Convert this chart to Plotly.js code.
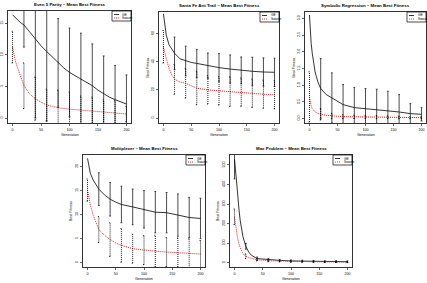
<!DOCTYPE html>
<html><head><meta charset="utf-8">
<script src="https://cdn.plot.ly/plotly-3.0.1.min.js"></script>
<style>html,body{margin:0;padding:0;background:#fff}#c{width:427px;height:283px}</style>
</head><body><div id="c"></div>
<script>
// ---------- DATA ----------
const barGens = [0,20,40,60,80,100,120,140,160,180,200];
const seriesNames = ["GE","Swarm"];
const titles = ["Even 5 Parity \u2013 Mean Best Fitness","Santa Fe Ant Trail \u2013 Mean Best Fitness","Symbolic Regression \u2013 Mean Best Fitness","Multiplexer \u2013 Mean Best Fitness","Max Problem \u2013 Mean Best Fitness"];
const xTitle = "Generation";
const yTitle = "Best Fitness";
const xTicks = [0,50,100,150,200];

// Even 5 Parity
const p1Gen = [0,5,10,15,20,30,40,50,60,70,80,90,100,110,120,130,140,150,160,170,180,190,200];
const p1GE = [16.3,15.8,15.4,15.0,14.7,13.6,12.5,11.4,10.5,9.6,8.7,7.9,7.2,6.7,6.2,5.7,5.1,4.4,3.8,3.3,2.9,2.5,2.2];
const p1Sw = [11.2,9.0,7.6,6.2,5.1,3.8,3.05,2.5,2.05,1.8,1.6,1.5,1.4,1.33,1.26,1.18,1.1,1.02,0.95,0.88,0.8,0.7,0.63];
const p1GESd = [null,3.5,12.5,11,7,7,7.2,6.6,6,5.4,4.6];
const p1SwSd = [2.5,3.6,3.4,2.5,2.8,2.7,2.2,2.2,1.9,1.9,1.2];
const p1YTicks = [0,5,10,15];

// Santa Fe Ant Trail
const p2Gen = [0,2,5,10,15,20,30,40,50,60,80,100,120,140,160,180,200];
const p2GE = [74,67,59,52,48.5,46,42,40.5,39.5,38.8,37.2,35.8,34.8,33.9,33.2,32.7,32.5];
const p2Sw = [50.6,47,42.4,35.3,30.5,27.5,25.6,24.7,22.8,21.2,20,19.3,18.8,18.4,17.6,16.9,16.5];
const p2GESd = [null,11.5,10.5,10,9,10,10,9.5,10,10,10];
const p2SwSd = [11.5,10.6,10.5,11.7,10,10,10.5,10,10,10,10];
const p2YTicks = [0,20,40,60];

// Symbolic Regression
const p3Gen = [0,1,2,3,5,8,10,15,20,30,40,50,60,80,100,120,140,160,180,200];
const p3GE = [3.1,2.75,2.55,2.25,1.95,1.6,1.4,1.1,0.9,0.72,0.62,0.5,0.42,0.33,0.3,0.28,0.25,0.2,0.15,0.13];
const p3Sw = [0.65,0.55,0.45,0.38,0.3,0.23,0.2,0.16,0.13,0.1,0.08,0.07,0.06,0.055,0.05,0.045,0.04,0.035,0.03,0.03];
const p3GESd = [null,0.9,0.75,0.6,0.6,0.6,0.6,0.57,0.52,0.3,0.2];
const p3SwSd = [0.75,0.17,0.08,0.06,0.05,0.05,0.05,0.04,0.04,0.03,0.03];
const p3YTicks = [0,0.5,1,1.5,2,2.5,3];

// Multiplexer
const p4Gen = [0,2,5,10,15,20,30,40,50,60,80,100,120,140,160,180,200];
const p4GE = [21.7,20.3,18.6,17.2,16.1,15.3,14.1,13.2,12.6,12.1,11.6,11.1,10.5,10.4,9.9,9.4,9.2];
const p4Sw = [15.1,13.8,12.0,9.9,8.2,6.9,5.7,4.8,4.1,3.6,2.9,2.6,2.4,2.2,2.1,1.95,1.8];
const p4GESd = [null,3.4,3.5,3.8,3.7,3.9,4.3,4.2,4.4,4.2,4.2];
const p4SwSd = [2.3,2.7,3.5,3.5,3.0,3.0,3.3,3.0,3.0,3.0,2.8];
const p4YTicks = [0,5,10,15,20];

// Max Problem
const p5Gen = [0,2,5,8,10,15,20,25,30,40,60,80,100,120,140,160,180,200];
const p5GE = [529,474,371,269,217,132,84,55,38,21,15,12,9,8,7,6,6,5];
const p5Sw = [235,183,132,95,77,46,33,26,21,15,10,8,7,6,5,4,4,3];
const p5GESd = [100,15,8,6,5,5,5,4,4,4,4];
const p5SwSd = [40,12,6,5,4,4,3,3,3,3,3];
const p5YTicks = [0,100,200,300,400,500];

// ---------- LAYOUT CONFIG (pixel boxes: left, right, top, bottom) ----------
const W = 427, H = 283;
const boxes = [[8,131,11,123],[159,279,12,123],[305,426,12,123],[83,205,155,267],[230,352,155,267]];
const yRanges = [[-0.79,16.9],[-3.5,75.3],[-0.13,3.19],[-0.9,22.4],[-22,551]];
const panels = [
  {gen:p1Gen, ge:p1GE, sw:p1Sw, geSd:p1GESd, swSd:p1SwSd, yt:p1YTicks},
  {gen:p2Gen, ge:p2GE, sw:p2Sw, geSd:p2GESd, swSd:p2SwSd, yt:p2YTicks},
  {gen:p3Gen, ge:p3GE, sw:p3Sw, geSd:p3GESd, swSd:p3SwSd, yt:p3YTicks, fmt:'.1f'},
  {gen:p4Gen, ge:p4GE, sw:p4Sw, geSd:p4GESd, swSd:p4SwSd, yt:p4YTicks},
  {gen:p5Gen, ge:p5GE, sw:p5Sw, geSd:p5GESd, swSd:p5SwSd, yt:p5YTicks}
];

const FONT = "Liberation Sans, Arial, sans-serif";
const capHalf = 1.6;

function errSegments(gen, mean, sd){
  const xs=[], ys=[];
  barGens.forEach((g,i)=>{
    const s = sd[i];
    if(s===null || s===undefined) return;
    const m = mean[gen.indexOf(g)];
    const lo = m - s, hi = m + s;
    xs.push(g,g,null, g-capHalf,g+capHalf,null, g-capHalf,g+capHalf,null);
    ys.push(lo,hi,null, lo,lo,null, hi,hi,null);
  });
  return {xs, ys};
}

const traces = [];
const layout = {
  width: W, height: H, margin:{l:0,r:0,t:0,b:0},
  paper_bgcolor:'#fff', plot_bgcolor:'#fff', showlegend:false,
  font:{family:FONT, size:3.5, color:'#000'},
  annotations:[], shapes:[]
};
const px = v => v/W, py = v => 1 - v/H;

panels.forEach((p,k)=>{
  const n = k+1, sx = n===1?'':String(n);
  const xa = 'x'+sx, ya = 'y'+sx;
  const [l,r,t,b] = boxes[k];
  traces.push({x:p.gen, y:p.ge, xaxis:xa, yaxis:ya, type:'scatter', mode:'lines',
    line:{color:'#111', width:0.85}, name:seriesNames[0], hoverinfo:'skip'});
  traces.push({x:p.gen, y:p.sw, xaxis:xa, yaxis:ya, type:'scatter', mode:'lines',
    line:{color:'#e3262f', width:1, dash:'1px,1px'}, name:seriesNames[1], hoverinfo:'skip'});
  const e1 = errSegments(p.gen, p.ge, p.geSd);
  traces.push({x:e1.xs, y:e1.ys, xaxis:xa, yaxis:ya, type:'scatter', mode:'lines',
    line:{color:'#111', width:0.75}, connectgaps:false, hoverinfo:'skip'});
  const e2 = errSegments(p.gen, p.sw, p.swSd);
  traces.push({x:e2.xs, y:e2.ys, xaxis:xa, yaxis:ya, type:'scatter', mode:'lines',
    line:{color:'#000', width:0.9, dash:'1px,1px'}, connectgaps:false, hoverinfo:'skip'});

  layout['xaxis'+sx] = {domain:[px(l),px(r)], anchor:ya, range:[-8,208], tickvals:xTicks,
    ticks:'outside', ticklen:2, tickwidth:0.6, tickcolor:'#000', showline:true, mirror:true,
    linecolor:'#000', linewidth:0.8, showgrid:false, zeroline:false,
    tickfont:{size:3.6, family:FONT, color:'#000'}, ticklabelstandoff:1, fixedrange:true};
  layout['yaxis'+sx] = {domain:[py(b),py(t)], anchor:xa, range:yRanges[k], tickvals:p.yt,
    tickformat:p.fmt||'', tickangle:-90,
    ticks:'outside', ticklen:2, tickwidth:0.6, tickcolor:'#000', showline:true, mirror:true,
    linecolor:'#000', linewidth:0.8, showgrid:false, zeroline:false,
    tickfont:{size:3.6, family:FONT, color:'#000'}, ticklabelstandoff:1, fixedrange:true};

  layout.annotations.push({text:'<b>'+titles[k]+'</b>', xref:'paper', yref:'paper',
    x:px((l+r)/2), y:py(t-6.5), showarrow:false, xanchor:'center', yanchor:'middle',
    font:{size:4.4, family:FONT, color:'#000'}});
  layout.annotations.push({text:xTitle, xref:'paper', yref:'paper',
    x:px((l+r)/2), y:py(b+12), showarrow:false, xanchor:'center', yanchor:'middle',
    font:{size:3.6, family:FONT, color:'#000'}});
  if (l - 12 > 3) {
    layout.annotations.push({text:yTitle, xref:'paper', yref:'paper', textangle:-90,
      x:px(l-12), y:py((t+b)/2), showarrow:false, xanchor:'center', yanchor:'middle',
      font:{size:3.6, family:FONT, color:'#000'}});
  }
  const lw = 19, lh = 10;
  layout.shapes.push({type:'rect', xref:'paper', yref:'paper', x0:px(r-lw), x1:px(r), y0:py(t+lh), y1:py(t),
    line:{color:'#000', width:0.7}, fillcolor:'rgba(0,0,0,0)'});
  layout.shapes.push({type:'line', xref:'paper', yref:'paper', x0:px(r-lw+2), x1:px(r-lw+7), y0:py(t+3.5), y1:py(t+3.5),
    line:{color:'#000', width:0.8}});
  layout.shapes.push({type:'line', xref:'paper', yref:'paper', x0:px(r-lw+2), x1:px(r-lw+7), y0:py(t+7), y1:py(t+7),
    line:{color:'#e3262f', width:0.9, dash:'1px,1px'}});
  layout.annotations.push({text:seriesNames[0], xref:'paper', yref:'paper', x:px(r-lw+8.5), y:py(t+3.5),
    showarrow:false, xanchor:'left', yanchor:'middle', font:{size:3.3, family:FONT, color:'#000'}});
  layout.annotations.push({text:seriesNames[1], xref:'paper', yref:'paper', x:px(r-lw+8.5), y:py(t+7),
    showarrow:false, xanchor:'left', yanchor:'middle', font:{size:3.3, family:FONT, color:'#000'}});
});

Plotly.newPlot('c', traces, layout, {staticPlot:true, displayModeBar:false});
</script></body></html>
